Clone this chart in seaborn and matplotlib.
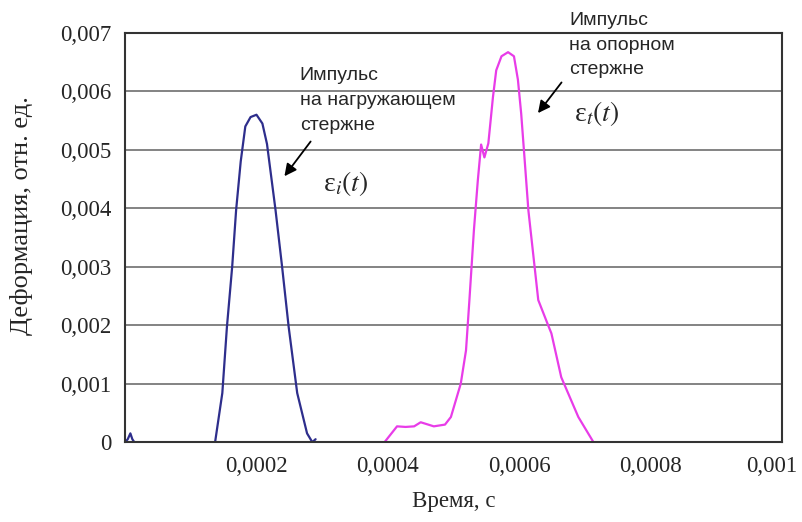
import matplotlib
matplotlib.use('Agg')
import matplotlib.pyplot as plt
import matplotlib.transforms as mtransforms
import seaborn as sns
import pandas as pd

# pulse in the loading bar (blue)
t_inc = [0.0, 0.000004, 0.000008, 0.000011, 0.000014, 0.000137, 0.000148, 0.000155, 0.000163,
         0.000169, 0.000176, 0.000183, 0.000191, 0.000200, 0.000209, 0.000216,
         0.000229, 0.000239, 0.000249, 0.000262, 0.000277, 0.000285, 0.000290]
eps_inc = [0.0, 0.00005, 0.00015, 0.00005, 0.0, 0.0, 0.00084, 0.00197, 0.0030,
           0.00397, 0.0048, 0.0054, 0.00556, 0.0056, 0.00545, 0.0051,
           0.00397, 0.0030, 0.00197, 0.00084, 0.00015, 0.0, 0.00005]

# pulse in the support bar (magenta)
t_tr = [0.000395, 0.000414, 0.000427, 0.000440, 0.000450, 0.000470, 0.000487, 0.000496,
        0.000511, 0.000519, 0.000524, 0.000531, 0.000537, 0.000542, 0.000547, 0.000553,
        0.000560, 0.000565, 0.000573, 0.000583, 0.000592, 0.000598, 0.000603, 0.000608,
        0.000614, 0.000629, 0.000644, 0.000649, 0.000664, 0.000690, 0.000713]
eps_tr = [0.0, 0.00027, 0.00026, 0.00027, 0.00034, 0.00027, 0.00030, 0.00043,
          0.0010, 0.00157, 0.0024, 0.00362, 0.00448, 0.00509, 0.00487, 0.00511,
          0.0059, 0.00636, 0.0066, 0.00667, 0.0066, 0.0062, 0.00562, 0.00487,
          0.00396, 0.00243, 0.0020, 0.00186, 0.00111, 0.00043, 0.0]

x_ticks = [0.0002, 0.0004, 0.0006, 0.0008, 0.001]
x_labels = ['0,0002', '0,0004', '0,0006', '0,0008', '0,001']
y_ticks = [0, 0.001, 0.002, 0.003, 0.004, 0.005, 0.006, 0.007]
y_labels = ['0', '0,001', '0,002', '0,003', '0,004', '0,005', '0,006', '0,007']

sns.set_style('white')
plt.rcParams['font.family'] = ['Liberation Serif', 'DejaVu Serif']
plt.rcParams['mathtext.fontset'] = 'stix'

df_inc = pd.DataFrame({'t': t_inc, 'eps': eps_inc})
df_tr = pd.DataFrame({'t': t_tr, 'eps': eps_tr})

fig = plt.figure(figsize=(8.02, 5.22), dpi=100)
ax = fig.add_axes([0.156, 0.153, 0.819, 0.784])

for y in y_ticks[1:]:
    ax.axhline(y, color='#7a7a7a', lw=1.3, zorder=0)

sns.lineplot(data=df_inc, x='t', y='eps', color='#2E2E8C', lw=1.6, ax=ax, sort=False)
sns.lineplot(data=df_tr, x='t', y='eps', color='#E83CE8', lw=1.6, ax=ax, sort=False)

ax.set_xlim(0, 0.001)
ax.set_ylim(0, 0.007)
ax.set_xticks(x_ticks)
ax.set_xticklabels(x_labels, fontsize=16.5)
ax.set_yticks(y_ticks)
ax.set_yticklabels(y_labels, fontsize=16.5)
ax.tick_params(axis='both', direction='out', length=5, width=1, color='#333333', pad=5)
# last x label is pulled left so it stays inside the figure
last = ax.get_xticklabels()[-1]
last.set_transform(last.get_transform() + mtransforms.ScaledTranslation(-10 / 100, 0, fig.dpi_scale_trans))
ax.set_xlabel('Время, с', fontsize=16.5, labelpad=10)
ax.set_ylabel('Деформация, отн. ед.', fontsize=19)
ax.yaxis.set_label_coords(-0.14, 0.553)
for s in ax.spines.values():
    s.set_color('#333333')
    s.set_linewidth(1.5)

sans = ['Liberation Sans', 'DejaVu Sans']
ax.text(0.000266, 0.00641, 'Импульс\nна нагружающем\nстержне', family=sans, fontsize=14,
        va='top', ha='left', linespacing=1.6)
ax.text(0.000676, 0.00736, 'Импульс\nна опорном\nстержне', family=sans, fontsize=14,
        va='top', ha='left', linespacing=1.6, clip_on=False)
ax.annotate('', xy=(0.000240, 0.00451), xytext=(0.000285, 0.00518),
            arrowprops=dict(arrowstyle='-|>', color='black', lw=1.3, mutation_scale=18))
ax.annotate('', xy=(0.000626, 0.00559), xytext=(0.000667, 0.00619),
            arrowprops=dict(arrowstyle='-|>', color='black', lw=1.3, mutation_scale=18))
ax.text(0.000302, 0.00443, 'ε$_i(t)$', fontsize=20, va='center', ha='left')
ax.text(0.000684, 0.00562, 'ε$_t(t)$', fontsize=20, va='center', ha='left')

fig.savefig('out.png', dpi=100)
